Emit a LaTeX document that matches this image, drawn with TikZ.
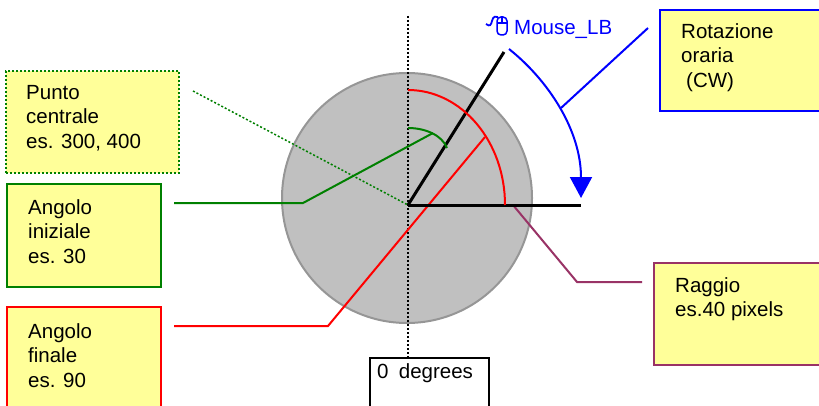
\documentclass[tikz,border=0pt]{standalone}
\usepackage{fontspec}
\setmainfont{Liberation Sans}
\usetikzlibrary{positioning,arrows.meta}
\definecolor{notefill}{HTML}{FFFF99}
\definecolor{discgray}{HTML}{C0C0C0}
\definecolor{discedge}{HTML}{969696}
\definecolor{darkgreen}{HTML}{008000}
\definecolor{plum}{HTML}{993366}
\tikzset{
    notebox/.style={draw, line width=2pt, fill=notefill, anchor=north west, inner sep=0pt, outer sep=0pt},
    notetext/.style={font=\fontsize{20.5}{24.5}\selectfont, align=left, inner sep=0pt, anchor=north west},
    leader/.style={line width=2pt},
    dotline/.style={dash pattern=on 2pt off 2pt},
    armline/.style={line width=3pt, black}
}
\begin{document}
\begin{tikzpicture}[x=1pt, y=1pt, >=stealth]
    \clip (0,0) rectangle (819,405);
    \fill[white] (0,0) rectangle (819,405);

    % Disc with the zero axis
    \coordinate (centre) at (407,207);
    \fill[discgray, draw=discedge, line width=2pt] (centre) circle (125);
    \node[draw, line width=2pt, fill=white, anchor=north west, minimum width=119, minimum height=60, inner sep=0pt, outer sep=0pt] (zero) at (370,47) {};
    \node[notetext, below right=5 and 7 of zero.north west] (zerotext) {0\,\,\,degrees};
    \coordinate (axistop) at (408,389);
    \draw[dotline, line width=1.6pt] (axistop) -- (axistop |- zero.north);

    % Note boxes
    \node[notebox, draw=darkgreen, dotline, minimum width=173, minimum height=102] (centrebox) at (6,334) {};
    \node[notetext, below right=14 and 20 of centrebox.north west] (centretext) {Punto\\centrale\\es. 300, 400};
    \node[notebox, draw=darkgreen, minimum width=154, minimum height=103] (startbox) at (7,221) {};
    \node[notetext, below right=15 and 21 of startbox.north west] (starttext) {Angolo\\iniziale\\es. 30};
    \node[notebox, draw=red, minimum width=154, minimum height=110] (endbox) at (7,98) {};
    \node[notetext, below right=16 and 21 of endbox.north west] (endtext) {Angolo\\finale\\es. 90};
    \node[notebox, draw=blue, minimum width=170, minimum height=101] (cwbox) at (660,395) {};
    \node[notetext, below right=13 and 21 of cwbox.north west] (cwtext) {Rotazione\\oraria\\\hspace*{5pt}(CW)};
    \node[notebox, draw=plum, minimum width=180, minimum height=102] (radiusbox) at (654,142) {};
    \node[notetext, below right=14 and 21 of radiusbox.north west] (radiustext) {Raggio\\es.40 pixels};

    % Leaders from the boxes
    \coordinate (hub) at (408,200);
    \coordinate (startend) at (433,272);
    \coordinate (finalend) at (485,268);
    \coordinate (radiusend) at (513,200);
    \draw[darkgreen, dotline, line width=1.5pt] (193,314) -- (hub);
    \draw[leader, darkgreen] (174,202) -- (303,202) -- (startend);
    \draw[leader, red] (174,79) -- (328,79) -- (finalend);
    \draw[leader, plum] (radiusend) -- (577,123) -- (642,123);

    % Arms and arcs
    \draw[armline] (hub) -- (504,353);
    \draw[armline] (hub) -- (581,200);
    \draw[leader, red] (408,315) arc (90:0:97pt and 115pt);
    \draw[leader, darkgreen] (408,277) .. controls (425,277) and (442,270) .. (447,257);

    % Rotation arrow
    \coordinate (cwstart) at (509,356);
    \coordinate (cwend) at (581,207);
    \draw[blue, line width=2pt, -{Triangle[length=21pt,width=22pt]}] (cwstart) .. controls (548,325) and (581,275) .. (cwend);
    \draw[leader, blue] (561,297) -- (648,377);

    % Mouse label
    \node[notetext, text=blue, anchor=west] (mouselabel) at (514,376) {Mouse\_LB};
    \draw[blue, line width=1.5pt, rounded corners=4pt] (497,370) rectangle (507,388);
    \draw[blue, line width=1.2pt] (497,382) -- (507,382) (502,388) -- (502,382);
    \draw[blue, line width=1.8pt] (486,381) .. controls (490,378) and (491,380) .. (492,384) .. controls (493,389) and (496,389) .. (498,388);
\end{tikzpicture}
\end{document}
